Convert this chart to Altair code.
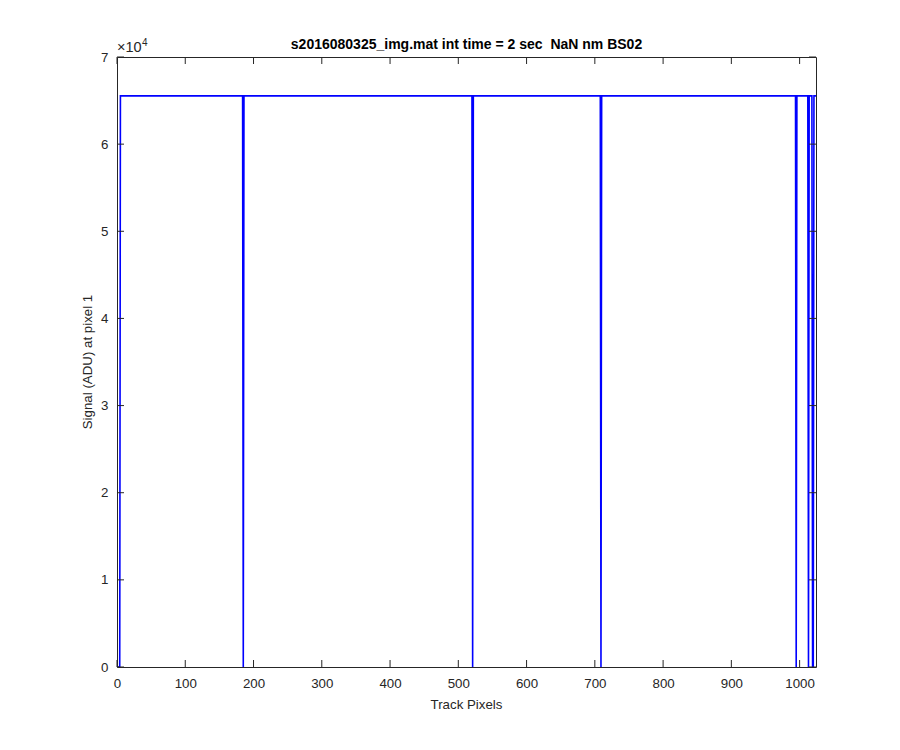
import altair as alt
import pandas as pd

# Breakpoints of the trace (pixel index, signal ADU); the trace is flat between them
track_px = [1, 4, 5, 184, 185, 186, 520, 521, 522, 708, 709, 710,
            994, 995, 996, 1012, 1013, 1014, 1018, 1019, 1020, 1021, 1022, 1024]
signal = [0, 0, 65535, 65535, 0, 65535, 65535, 0, 65535, 65535, 0, 65535,
          65535, 0, 65535, 65535, 0, 65535, 65535, 0, 0, 65535, 65535, 65535]

x_ticks = [0, 100, 200, 300, 400, 500, 600, 700, 800, 900, 1000]
y_ticks = [0, 10000, 20000, 30000, 40000, 50000, 60000, 70000]

title_text = "s2016080325_img.mat int time = 2 sec \u00a0NaN nm BS02"
x_title = "Track Pixels"
y_title = "Signal (ADU) at pixel 1"

W, H = 699, 610
FONT = "Liberation Sans"
DARK = "#262626"
TL = 7

df = pd.DataFrame({"x": track_px, "y": signal})
xt = pd.DataFrame({"x": x_ticks})
yt = pd.DataFrame({"y": y_ticks})

xscale = alt.Scale(domain=[0, 1024], nice=False, zero=False)
yscale = alt.Scale(domain=[0, 70000], nice=False)
xaxis = alt.Axis(values=x_ticks, title=None, labelPadding=9, format="d", labelFlush=False)
yaxis = alt.Axis(values=y_ticks, title=None, labelPadding=9, labelFlush=False,
                 labelExpr="datum.value / 10000")

X = alt.X("x:Q", scale=xscale, axis=xaxis)
Y = alt.Y("y:Q", scale=yscale, axis=yaxis)

line = alt.Chart(df).mark_line(color="#0000ff", strokeWidth=1.6, clip=True).encode(x=X, y=Y)

tick_style = dict(color=DARK, strokeWidth=1)
xb = alt.Chart(xt).mark_rule(**tick_style).encode(x=X, y=alt.value(H), y2=alt.value(H - TL))
xtp = alt.Chart(xt).mark_rule(**tick_style).encode(x=X, y=alt.value(0), y2=alt.value(TL))
yl = alt.Chart(yt).mark_rule(**tick_style).encode(y=Y, x=alt.value(0), x2=alt.value(TL))
yr = alt.Chart(yt).mark_rule(**tick_style).encode(y=Y, x=alt.value(W - TL), x2=alt.value(W))

txt = pd.DataFrame({"t": [0]})
title = alt.Chart(txt).mark_text(text=title_text, font=FONT, fontSize=14, fontWeight="bold",
                                 color="black", align="center", baseline="alphabetic").encode(
    x=alt.value(W / 2), y=alt.value(-8))
xtit = alt.Chart(txt).mark_text(text=x_title, font=FONT, fontSize=13.3, color=DARK,
                                align="center", baseline="alphabetic").encode(
    x=alt.value(W / 2), y=alt.value(H + 42))
ytit = alt.Chart(txt).mark_text(text=y_title, font=FONT, fontSize=13.3, color=DARK,
                                align="center", baseline="alphabetic", angle=270).encode(
    x=alt.value(-25), y=alt.value(H / 2))
exp1 = alt.Chart(txt).mark_text(text="×10", font=FONT, fontSize=14.5, color=DARK,
                                align="left", baseline="alphabetic").encode(
    x=alt.value(0), y=alt.value(-5))
exp2 = alt.Chart(txt).mark_text(text="4", font=FONT, fontSize=10, color=DARK,
                                align="left", baseline="alphabetic").encode(
    x=alt.value(25), y=alt.value(-11))

chart = alt.layer(line, xb, xtp, yl, yr, title, xtit, ytit, exp1, exp2).properties(
    width=W, height=H,
    autosize=alt.AutoSizeParams(type="none"),
    padding={"left": 109, "top": 49, "right": 60, "bottom": 60},
    background="white",
).configure_view(
    stroke=DARK, strokeWidth=1, fill="white"
).configure_axis(
    grid=False, domain=False, ticks=False,
    labelFont=FONT, labelFontSize=13.3, labelColor=DARK,
)

chart.save("out.html", embed_options={"renderer": "svg", "actions": False})
